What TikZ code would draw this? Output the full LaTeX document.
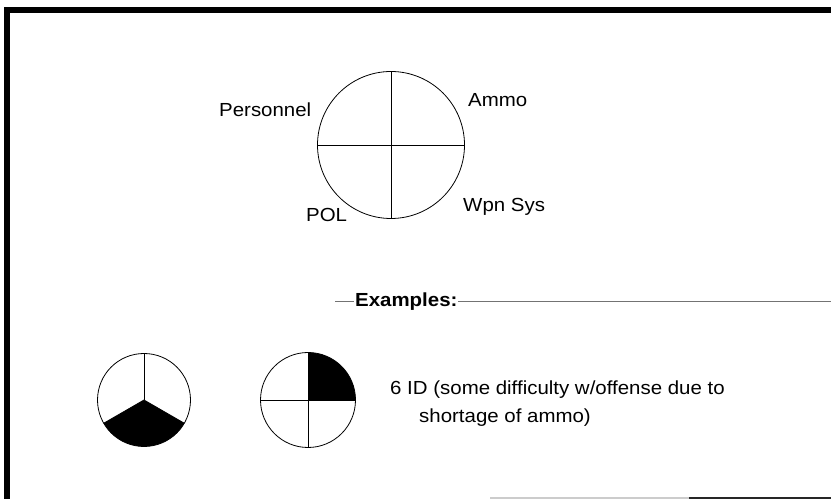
\documentclass[tikz,border=0pt]{standalone}
\usepackage{fontspec}
\setmainfont[FakeStretch=1.08]{Liberation Sans}
\begin{document}
\begin{tikzpicture}[x=1bp,y=1bp,
  lbl/.style={anchor=base west,inner sep=0pt,font=\fontsize{19}{23}\selectfont},
  pie/.style={circle,draw,line width=0.8bp,inner sep=0pt,outer sep=0pt},
  divider/.style={line width=0.8bp}]
\useasboundingbox (0,0) rectangle (831,499);
% frame
\draw[line width=6bp,line join=miter] (7,0) -- (7,489) -- (831,489);
\coordinate (bl1) at (490,1);
\coordinate (bl2) at (689,1);
\coordinate (bl3) at (831,1);
\draw[line width=2bp,black!20] (bl1) -- (bl2);
\draw[line width=2bp,black!85] (bl2) -- (bl3);
% main circle
\node[pie,minimum size=147bp] (main) at (391,354) {};
\draw[divider] (main.north) -- (main.south);
\draw[divider] (main.west) -- (main.east);
\node[lbl] (pers) at (219,382) {Personnel};
\node[lbl] (ammo) at (468,392) {Ammo};
\node[lbl] (wpn) at (463,287) {Wpn Sys};
\node[lbl] (pol) at (306,277) {POL};
% examples rule
\coordinate (exl) at (335,198);
\coordinate (exr) at (831,198);
\draw[black!55,line width=0.8bp] (exl) -- (exr);
\node[lbl,fill=white,inner xsep=1bp,inner ysep=3bp,font=\fontsize{19}{23}\selectfont\bfseries] (ex) at (354,192) {Examples:};
% left example
\node[pie,minimum size=93bp] (L) at (144,99) {};
\fill (L.center) -- (L.210) arc[start angle=210,end angle=330,radius=46.5bp] -- cycle;
\draw[divider] (L.center) -- (L.90);
\draw[divider] (L.center) -- (L.210);
\draw[divider] (L.center) -- (L.330);
% right example
\node[pie,minimum size=95bp] (R) at (308,99) {};
\fill (R.center) -- (R.90) arc[start angle=90,end angle=0,radius=47.5bp] -- cycle;
\draw[divider] (R.north) -- (R.south);
\draw[divider] (R.west) -- (R.east);
\node[lbl] (t1) at (390,104) {6 ID (some difficulty w/offense due to};
\node[lbl] (t2) at (419,76) {shortage of ammo)};
\end{tikzpicture}
\end{document}
